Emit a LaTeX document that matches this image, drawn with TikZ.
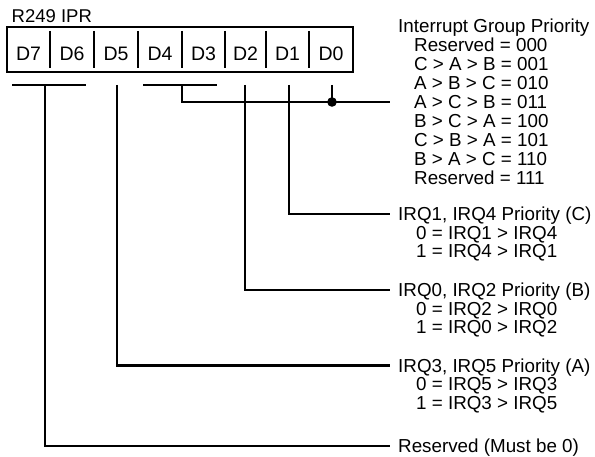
\documentclass[tikz,border=0pt]{standalone}
\usepackage{fontspec}
\setmainfont{Liberation Sans}
\begin{document}
\begin{tikzpicture}[x=1pt,y=-1pt,
  wire/.style={line width=2.6pt},
  txt/.style={font=\fontsize{18.8}{22}\selectfont, inner sep=0pt, text height=13.4pt, text depth=0pt},
  lbl/.style={txt, anchor=west},
  hdr/.style={txt, anchor=west, inner xsep=8pt},
  cell/.style={font=\fontsize{19.5}{23}\selectfont, inner sep=0pt, text height=14pt, text depth=0pt},
  regbox/.style={draw, line width=2.6pt, minimum width=346pt, minimum height=45pt, inner sep=0pt},
  divider/.style={line width=2.4pt}]
\useasboundingbox (0,0) rectangle (595,457);

% register title and box
\node[font=\fontsize{18.5}{22}\selectfont, inner sep=0pt, anchor=base west] (title) at (11.5,22.7) {R249 IPR};
\node[regbox] (box) at (180,49.5) {};
\foreach \x/\n in {50/a,94/b,138/c,182/d,225/e,266/f,309/g}{
  \coordinate (t\n) at (\x,31);
  \coordinate (u\n) at (\x,68.5);
  \draw[divider] (t\n) -- (u\n);
}
\foreach \x/\n in {28.5/7,72/6,116/5,160/4,203.5/3,245.5/2,287.5/1,331/0}{
  \node[cell] (d\n) at (\x,53.7) {D\n};
}

% right-hand texts: interrupt group priority
\node[lbl] (g0) at (398,25.8) {Interrupt Group Priority};
\node[lbl] (g1) at (414,44.85) {Reserved = 000};
\node[lbl] (g2) at (414,63.9) {C > A > B = 001};
\node[lbl] (g3) at (414,82.95) {A > B > C = 010};
\node[lbl] (g4) at (414,102) {A > C > B = 011};
\node[lbl] (g5) at (414,121.05) {B > C > A = 100};
\node[lbl] (g6) at (414,140.1) {C > B > A = 101};
\node[lbl] (g7) at (414,159.15) {B > A > C = 110};
\node[lbl] (g8) at (414,178.2) {Reserved = 111};
\coordinate (gend) at (390,102);

% IRQ1/IRQ4 (C)
\node[hdr] (irq1) at (390,214) {IRQ1, IRQ4 Priority (C)};
\node[lbl] (irq1a) at (416,232.6) {0 = IRQ1 > IRQ4};
\node[lbl] (irq1b) at (416,251.2) {1 = IRQ4 > IRQ1};
% IRQ0/IRQ2 (B)
\node[hdr] (irq0) at (390,290) {IRQ0, IRQ2 Priority (B)};
\node[lbl] (irq0a) at (416,308.6) {0 = IRQ2 > IRQ0};
\node[lbl] (irq0b) at (416,327.2) {1 = IRQ0 > IRQ2};
% IRQ3/IRQ5 (A)
\node[hdr] (irq3) at (390,365.5) {IRQ3, IRQ5 Priority (A)};
\node[lbl] (irq3a) at (416,384.1) {0 = IRQ5 > IRQ3};
\node[lbl] (irq3b) at (416,402.7) {1 = IRQ3 > IRQ5};
% Reserved
\node[hdr] (rsv) at (390,446) {Reserved (Must be 0)};

% bars and stems below the register
\coordinate (b76l) at (12,85);
\coordinate (b76r) at (86,85);
\coordinate (s76) at (45,85);
\coordinate (s5) at (117,85);
\coordinate (b43l) at (143,85);
\coordinate (b43r) at (217,85);
\coordinate (s43) at (182,85);
\coordinate (s2) at (245,85);
\coordinate (s1) at (289,85);
\coordinate (s0) at (332,85);
\coordinate (jn) at (332,102);

\draw[wire] (b76l) -- (b76r);
\draw[wire] (b43l) -- (b43r);
\draw[wire] (s76) |- (rsv.west);
\draw[wire] (s5) |- (irq3.west);
\draw[wire] (s2) |- (irq0.west);
\draw[wire] (s1) |- (irq1.west);
\draw[wire] (s43) |- (gend);
\draw[wire] (s0) -- (jn);
\fill (jn) circle (4.8);
\end{tikzpicture}
\end{document}
